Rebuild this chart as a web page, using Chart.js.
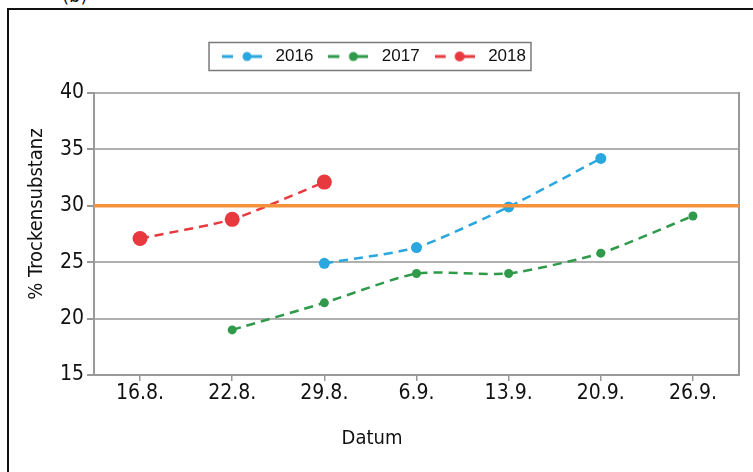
<!DOCTYPE html>
<html>
<head>
<meta charset="utf-8">
<script src="https://cdn.jsdelivr.net/npm/chart.js@4"></script>
<style>
    html, body { margin: 0; padding: 0; background: #fff; overflow: hidden; }
    #frame { position: absolute; left: 7px; top: 8px; width: 900px; height: 600px; border: 2px solid #111; }
    #tag { position: absolute; left: 62px; top: -17px; font: 20px 'DejaVu Sans Condensed', sans-serif; color: #111; }
    #wrap { position: absolute; left: 0; top: 0; width: 753px; height: 472px; }
</style>
</head>
<body>
<div id="frame"></div>
<div id="tag">(b)</div>
<div id="wrap"><canvas id="chart-ts"></canvas></div>
<script>
const dates = ['16.8.', '22.8.', '29.8.', '6.9.', '13.9.', '20.9.', '26.9.'];
const ts2016 = [null, null, 24.9, 26.3, 29.9, 34.2, null];
const ts2017 = [null, 19.0, 21.4, 24.0, 24.0, 25.8, 29.1];
const ts2018 = [27.1, 28.8, 32.1, null, null, null, null];
const limit = 30;
const yTicks = [15, 20, 25, 30, 35, 40];

const axisFont = "'Liberation Sans Narrow', 'DejaVu Sans Condensed', sans-serif";

// legend icon: dash, dot, dash like in the old excel chart
function makeIcon(color, r) {
    const c = document.createElement('canvas');
    c.width = 40;
    c.height = 14;
    const ctx = c.getContext('2d');
    ctx.strokeStyle = color;
    ctx.fillStyle = color;
    ctx.lineWidth = 3;
    ctx.beginPath();
    ctx.moveTo(0, 7);
    ctx.lineTo(11, 7);
    ctx.moveTo(25, 7);
    ctx.lineTo(40, 7);
    ctx.stroke();
    ctx.beginPath();
    ctx.arc(25, 7, r, 0, Math.PI * 2);
    ctx.fill();
    return c;
}

const colors = ['#2aa7df', '#2f9a4a', '#e8393f'];
const icons = [makeIcon(colors[0], 4.5), makeIcon(colors[1], 4.5), makeIcon(colors[2], 5)];

const limitLine = {
    id: 'limitLine',
    afterDatasetsDraw(chart) {
        const {ctx, chartArea, scales} = chart;
        const y = scales.y.getPixelForValue(limit);
        ctx.save();
        ctx.strokeStyle = '#f7913b';
        ctx.lineWidth = 3.5;
        ctx.beginPath();
        ctx.moveTo(chartArea.left, y);
        ctx.lineTo(chartArea.right, y);
        ctx.stroke();
        ctx.restore();
    },
};

const extras = {
    id: 'extras',
    afterDraw(chart) {
        const {ctx} = chart;
        const boxes = chart.legend.legendHitBoxes;
        ctx.save();
        if (boxes && boxes.length) {
            const first = boxes[0];
            const last = boxes[boxes.length - 1];
            const yc = first.top + first.height / 2;
            ctx.strokeStyle = '#7a7a7a';
            ctx.lineWidth = 1.5;
            ctx.strokeRect(first.left - 8, yc - 14, last.left + last.width + 5 - (first.left - 8), 28);
        }
        // axis captions
        ctx.fillStyle = '#111';
        ctx.font = '20px ' + axisFont;
        ctx.textAlign = 'center';
        ctx.textBaseline = 'middle';
        ctx.fillText('Datum', 372, 439);
        ctx.translate(37, 214);
        ctx.rotate(-Math.PI / 2);
        ctx.fillText('% Trockensubstanz', 0, 0);
        ctx.restore();
    },
};

function dashed(label, data, color, r) {
    return {
        label: label,
        data: data,
        borderColor: color,
        backgroundColor: color,
        pointBackgroundColor: color,
        pointBorderColor: color,
        pointBorderWidth: 0,
        pointRadius: r,
        pointHoverRadius: r,
        borderWidth: 2.5,
        borderDash: [9, 6],
        tension: 0.2,
        spanGaps: false,
    };
}

new Chart(document.getElementById('chart-ts').getContext('2d'), {
    type: 'line',
    data: {
        labels: dates,
        datasets: [
            dashed('2016', ts2016, colors[0], 5.5),
            dashed('2017', ts2017, colors[1], 4.5),
            dashed('2018', ts2018, colors[2], 7.5),
        ],
    },
    options: {
        responsive: true,
        maintainAspectRatio: false,
        animation: false,
        layout: {
            padding: { top: 38, left: 4, right: 14, bottom: 0 },
        },
        plugins: {
            tooltip: { enabled: false },
            legend: {
                display: true,
                position: 'top',
                labels: {
                    usePointStyle: true,
                    pointStyleWidth: 50,
                    padding: 10,
                    color: '#111',
                    font: { family: "'Liberation Sans', Arial, sans-serif", size: 17 },
                    generateLabels(chart) {
                        const items = Chart.defaults.plugins.legend.labels.generateLabels(chart);
                        items.forEach((item, i) => {
                            item.pointStyle = icons[i];
                        });
                        return items;
                    },
                },
            },
        },
        scales: {
            x: {
                type: 'category',
                offset: true,
                ticks: {
                    color: '#111',
                    padding: 0,
                    maxRotation: 0,
                    autoSkip: false,
                    font: { family: axisFont, size: 21 },
                },
                grid: {
                    drawOnChartArea: false,
                    drawTicks: true,
                    tickLength: 6,
                    color: '#999',
                    lineWidth: 1.5,
                },
                border: { color: '#999', width: 2 },
                afterFit(scale) {
                    scale.height = 97;
                },
            },
            xTop: {
                type: 'category',
                position: 'top',
                labels: dates,
                ticks: { display: false },
                grid: { display: false, drawTicks: false },
                border: { display: false },
                afterFit(scale) {
                    scale.height = 18;
                },
            },
            y: {
                min: 15,
                max: 40,
                afterBuildTicks(scale) {
                    scale.ticks = yTicks.map(v => ({ value: v }));
                },
                ticks: {
                    color: '#111',
                    padding: 3,
                    font: { family: axisFont, size: 21 },
                },
                grid: {
                    color: '#b0b0b0',
                    tickColor: '#999',
                    lineWidth: 2,
                    tickLength: 7,
                },
                border: { color: '#999', width: 2 },
                afterFit(scale) {
                    scale.width = 90;
                },
            },
            yRight: {
                position: 'right',
                min: 15,
                max: 40,
                ticks: { display: false },
                grid: { display: false, drawTicks: false },
                border: { color: '#999', width: 2 },
                afterFit(scale) {
                    scale.width = 0;
                },
            },
        },
    },
    plugins: [limitLine, extras],
});
</script>
</body>
</html>
